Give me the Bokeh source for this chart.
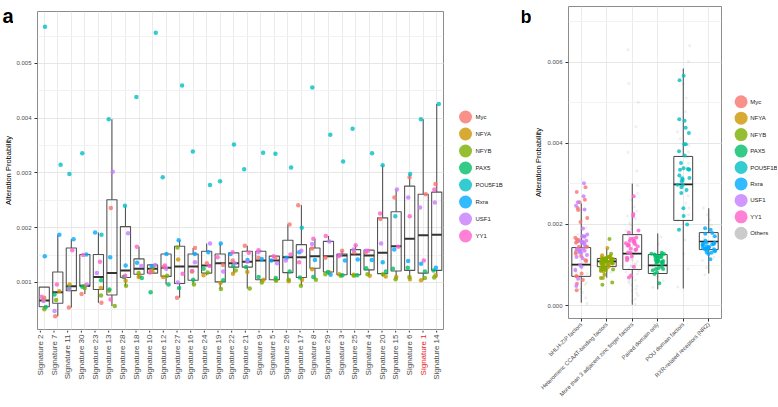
from math import pi
from bokeh.plotting import figure
from bokeh.models import (ColumnDataSource, FactorRange, Range1d, SingleIntervalTicker,
                          PrintfTickFormatter, Grid, CategoricalTicker)
from bokeh.layouts import row, column
from bokeh.transform import jitter
from bokeh.core.properties import value
from bokeh.embed import file_html
from bokeh.resources import INLINE

FONT = "Liberation Sans"
S = 1e-3  # values below are in units of 1e-3
H = 405

# ---------------- data ----------------
signatures = ["Signature 2", "Signature 7", "Signature 11", "Signature 30", "Signature 23",
              "Signature 13", "Signature 28", "Signature 18", "Signature 10", "Signature 12",
              "Signature 27", "Signature 16", "Signature 24", "Signature 19", "Signature 22",
              "Signature 21", "Signature 9", "Signature 5", "Signature 26", "Signature 17",
              "Signature 8", "Signature 29", "Signature 3", "Signature 25", "Signature 4",
              "Signature 20", "Signature 15", "Signature 6", "Signature 1", "Signature 14"]
highlighted = ["Signature 1"]
y_title = "Alteration Probability"

tfs = ["Myc", "NFYA", "NFYB", "PAX5", "POU5F1B", "Rxra", "USF1", "YY1"]
tf_colors = ["#F8766D", "#CD9600", "#7CAE00", "#00BE67", "#00BFC4", "#00A9FF", "#C77CFF", "#FF61CC"]

myc  = [.72, .38, .54, .79, .63, 2.36, 1.10, 1.12, 1.22, 1.28, .72, 1.63, 1.35, 1.32, 1.40,
        1.67, 1.45, 1.45, 2.06, 2.41, 1.62, 1.45, 1.58, 1.55, 1.55, 2.16, 2.55, 2.92, 2.61, 2.80]
nfya = [.68, .84, .96, .94, .90, .85, 1.03, 1.10, 1.20, 1.10, 1.42, 1.20, 1.13, .99, 1.16,
        1.19, 1.05, 1.05, 1.02, 1.05, 1.24, 1.18, 1.15, 1.14, 1.12, 1.11, 1.10, 1.06, 1.04, 1.13]
nfyb = [.51, .68, .88, .90, .76, .57, .94, 1.17, 1.28, 1.12, 1.64, .96, 1.18, .88, 1.22,
        .89, 1.00, 1.03, 1.05, .94, 1.05, 1.15, 1.12, 1.12, 1.15, 1.15, 1.06, 1.10, 1.08, 1.09]
pax5 = [.55, .78, .90, .92, 1.04, .87, 1.10, 1.08, .82, .96, .90, 1.05, 1.25, 1.04, 1.30,
        1.28, 1.10, 1.08, 1.20, 1.09, 1.10, 1.19, 1.13, 1.13, 1.26, 1.20, 1.25, 1.27, 1.20, 1.22]
pou5f1b = [5.67, 3.15, 2.98, 3.36, 1.87, 3.98, 2.40, 4.39, 5.56, 2.92, 4.60, 3.39, 2.78, 2.85, 3.52,
           3.07, 3.37, 3.35, 3.10, 2.00, 4.56, 3.70, 3.21, 3.81, 3.36, 3.14, 2.21, 2.98, 3.98, 4.26]
rxra = [1.48, 1.87, 1.79, 1.51, 1.91, 1.46, 1.31, 1.36, 1.30, 1.52, 1.77, 1.52, 1.55, 1.71, 1.52,
        1.41, 1.43, 1.40, 1.45, 1.55, 1.41, 1.14, 1.40, 1.42, 1.41, 1.37, 1.60, 1.39, 1.34, 1.27]
usf1 = [.66, .48, .88, .96, 1.17, 3.02, 1.90, 1.30, 1.32, 1.25, 1.00, 1.37, 1.71, 1.20, 1.35,
        1.38, 1.55, 1.35, 1.40, 1.58, 1.70, 1.75, 1.50, 1.60, 1.58, 1.71, 2.70, 2.55, 2.37, 2.46]
yy1  = [.74, .96, 1.59, 1.50, 1.38, .69, 1.12, 1.65, 1.18, 1.31, 1.16, 1.21, 1.30, 1.46, 1.55,
        1.54, 1.59, 1.48, 1.51, 1.37, 1.80, 1.85, 1.48, 1.68, 1.58, 2.26, 1.65, 2.21, 1.40, 2.70]
tf_values = [myc, nfya, nfyb, pax5, pou5f1b, rxra, usf1, yy1]

# box statistics per signature (panel a)
a_lo  = [.51, .38, .54, .79, .63, .57, .93, 1.08, 1.17, .96, .72, .96, 1.13, .88, 1.16,
         .89, 1.00, 1.03, 1.02, .94, 1.05, 1.14, 1.12, 1.12, 1.12, 1.11, 1.06, 1.06, 1.04, 1.09]
a_q1  = [.555, .62, .85, .93, .87, .77, 1.09, 1.15, 1.17, 1.11, .98, 1.04, 1.17, 1.01, 1.28,
         1.28, 1.05, 1.05, 1.18, 1.09, 1.26, 1.19, 1.14, 1.14, 1.23, 1.16, 1.21, 1.22, 1.17, 1.22]
a_med = [.67, .82, .93, .94, 1.10, 1.17, 1.22, 1.25, 1.25, 1.27, 1.29, 1.29, 1.31, 1.35, 1.35,
         1.38, 1.40, 1.40, 1.46, 1.46, 1.48, 1.48, 1.49, 1.51, 1.49, 1.54, 1.66, 1.80, 1.86, 1.87]
a_q3  = [.915, 1.19, 1.63, 1.51, 1.51, 2.51, 2.02, 1.43, 1.32, 1.52, 1.66, 1.52, 1.57, 1.52, 1.54,
         1.57, 1.57, 1.48, 1.77, 1.69, 1.63, 1.75, 1.52, 1.60, 1.59, 2.18, 2.29, 2.76, 2.61, 2.65]
a_hi  = [.915, 1.87, 1.79, 1.51, 1.91, 3.98, 2.40, 1.65, 1.32, 1.52, 1.77, 1.63, 1.71, 1.71, 1.55,
         1.67, 1.59, 1.48, 2.06, 2.41, 1.80, 1.85, 1.58, 1.68, 1.59, 3.14, 2.70, 2.98, 3.98, 4.26]

# panel b
families = ["bHLH-ZIP factors", "Heteromeric CCAAT-binding factors",
            "More than 3 adjacent zinc finger factors", "Paired domain only",
            "POU domain factors", "RXR-related receptors (NR2)"]
tf_family = ["bHLH-ZIP factors", "Heteromeric CCAAT-binding factors",
             "Heteromeric CCAAT-binding factors", "Paired domain only", "POU domain factors",
             "RXR-related receptors (NR2)", "bHLH-ZIP factors",
             "More than 3 adjacent zinc finger factors"]
b_lo  = [0.07, 0.69, 0.02, 0.40, 0.42, 0.79]
b_q1  = [0.72, 0.96, 0.89, 0.79, 2.10, 1.38]
b_med = [1.01, 1.09, 1.28, 0.99, 2.99, 1.58]
b_q3  = [1.43, 1.16, 1.75, 1.26, 3.68, 1.80]
b_hi  = [2.52, 1.41, 3.01, 1.78, 5.85, 2.40]

others_bhlh = [0.05, 0.19, 0.33, 0.41, 0.52, 0.56, 0.63, 0.66, 0.71, 0.74, 0.79, 0.81, 0.85, 0.88,
               0.92, 0.93, 0.97, 1.01, 1.04, 1.06, 1.11, 1.14, 1.18, 1.22, 1.27, 1.31, 1.37, 1.45,
               1.53, 1.64, 1.76, 1.92, 2.12, 2.36]
others_ccaat = [0.82, 0.97, 1.04, 1.13, 1.22]
others_zinc = [0.03, 0.11, 0.16, 0.25, 0.31, 0.37, 0.41, 0.48, 0.51, 0.57, 0.61, 0.63, 0.69, 0.72,
               0.76, 0.78, 0.83, 0.85, 0.9, 0.92, 0.96, 0.99, 1.02, 1.04, 1.09, 1.12, 1.14, 1.19,
               1.21, 1.26, 1.29, 1.31, 1.37, 1.39, 1.45, 1.47, 1.53, 1.56, 1.63, 1.66, 1.73, 1.77,
               1.85, 1.89, 1.98, 2.04, 2.14, 2.21, 2.33, 2.44, 2.61, 2.77, 2.96, 3.32, 3.78, 4.42,
               5.02, 5.48, 6.31]
others_paired = [0.45, 0.61, 0.71, 0.81, 0.87, 0.96, 1.03, 1.09, 1.21, 1.32, 1.51, 1.69]
others_pou = [0.46, 0.91, 1.28, 1.62, 1.88, 2.11, 2.24, 2.41, 2.53, 2.71, 2.81, 2.96, 3.04, 3.16,
              3.27, 3.41, 3.51, 3.66, 3.79, 3.96, 4.12, 4.29, 4.56, 4.78, 5.12, 5.47, 6.02, 6.41]
others_rxr = [0.76, 0.94, 1.11, 1.19, 1.31, 1.36, 1.45, 1.49, 1.56, 1.59, 1.66, 1.69, 1.77,
              1.82, 1.91, 1.99, 2.11, 2.24, 2.41]
others_by_family = [others_bhlh, others_ccaat, others_zinc, others_paired, others_pou, others_rxr]
others_color = "#BEBEBE"

# ---------------- helpers ----------------
def style_axes(p):
    for ax in p.axis:
        ax.axis_line_color = None
        ax.major_tick_line_color = "#333333"
        ax.major_tick_out = 3
        ax.major_tick_in = 0
        ax.minor_tick_line_color = None
        ax.major_label_text_color = "#4D4D4D"
        ax.major_label_text_font = FONT
        ax.major_label_standoff = 2
        ax.axis_label_text_font = FONT
        ax.axis_label_text_font_style = "normal"
        ax.axis_label_text_color = "black"
        ax.axis_label_text_font_size = "7.5px"
        ax.axis_label_standoff = 1
    p.xgrid.grid_line_color = "#EBEBEB"
    p.ygrid.grid_line_color = "#E6E6E6"
    p.ygrid.minor_grid_line_color = "#F2F2F2"
    p.outline_line_color = "#8C8C8C"
    p.outline_line_width = 1
    p.background_fill_color = "white"
    p.border_fill_color = "white"


def blank_fig(width, height, x_range, y_range, **kw):
    f = figure(width=width, height=height, x_range=x_range, y_range=y_range,
               output_backend="svg", toolbar_location=None, x_axis_location=None,
               y_axis_location=None, frame_align=False, **kw)
    f.grid.visible = False
    f.outline_line_color = None
    f.background_fill_color = None
    f.border_fill_color = None
    return f


def letter_fig(width, letter, lx, lbase, size, title=None, tx=0, ty=0):
    g = blank_fig(width, H, Range1d(0, width), Range1d(H, 0), min_border=0)
    g.text(x=[lx], y=[lbase], text=[letter], text_font=value(FONT), text_font_size=size,
           text_font_style="bold", text_baseline="alphabetic", text_align="left", text_color="black")
    if title:
        g.text(x=[tx], y=[ty], text=[title], text_font=value(FONT), text_font_size="7.5px",
               angle=pi / 2, text_align="center", text_baseline="middle", text_color="black")
    return g


# ---------------- panel a ----------------
PA_W, PA_L, PA_R, PA_TOP = 442, 20, 12, 11
PA_H = PA_TOP + 318 + 1
pa = figure(width=PA_W, height=PA_H, x_range=FactorRange(*signatures),
            y_range=Range1d(0.00014, 0.00595), output_backend="svg", toolbar_location=None,
            x_axis_location=None, min_border_left=PA_L, min_border_right=PA_R,
            min_border_top=PA_TOP, min_border_bottom=1, frame_align=False)
if not pa.xgrid:
    pa.add_layout(Grid(dimension=0, ticker=CategoricalTicker()))
tick_a = SingleIntervalTicker(interval=0.001, num_minor_ticks=2)
pa.yaxis.ticker = tick_a
pa.ygrid.ticker = tick_a
pa.yaxis.formatter = PrintfTickFormatter(format="%.3f")
pa.yaxis.major_label_text_font_size = "6px"
style_axes(pa)

box_a = ColumnDataSource(dict(sig=signatures,
                              lo=[v * S for v in a_lo], q1=[v * S for v in a_q1],
                              med=[v * S for v in a_med], q3=[v * S for v in a_q3],
                              hi=[v * S for v in a_hi]))
pa.segment(x0="sig", y0="q3", x1="sig", y1="hi", source=box_a, line_color="#555555", line_width=1.1)
pa.segment(x0="sig", y0="lo", x1="sig", y1="q1", source=box_a, line_color="#555555", line_width=1.1)
pa.vbar(x="sig", top="q3", bottom="q1", width=0.75, source=box_a, fill_color=None,
        line_color="#555555", line_width=1.1)
pa.vbar(x="sig", top="med", bottom="med", width=0.75, source=box_a, fill_color=None,
        line_color="#333333", line_width=2)

pts = dict(sig=[], val=[], color=[])
for tf, col, vals in zip(tfs, tf_colors, tf_values):
    for s, v in zip(signatures, vals):
        pts["sig"].append(s)
        pts["val"].append(v * S)
        pts["color"].append(col)
pa.scatter(x=jitter("sig", width=0.5, range=pa.x_range), y="val", source=ColumnDataSource(pts),
           size=4.5, fill_color="color", line_color=None, fill_alpha=0.8)

# category ticks and labels of panel a (one highlighted in red)
ST_H = H - PA_H
strip = blank_fig(PA_W, ST_H, pa.x_range, Range1d(ST_H, 0),
                  min_border_left=PA_L, min_border_right=PA_R, min_border_top=0, min_border_bottom=0)
lab_src = ColumnDataSource(dict(sig=signatures,
                                color=["#E41A1C" if s in highlighted else "#4D4D4D" for s in signatures]))
strip.segment(x0="sig", y0=0, x1="sig", y1=2, source=lab_src, line_color="#333333", line_width=1)
strip.text(x="sig", y=4, text="sig", source=lab_src, angle=pi / 2, text_align="right",
           text_baseline="middle", text_color="color", text_font=value(FONT), text_font_size="8px")

gut_a = letter_fig(13, "a", 2, 15, "20px", y_title, 8, PA_TOP + 159)


# ---------------- legend figure helper ----------------
def legend_fig(width, names, colors, top, item_h):
    fh = int(round(item_h * len(names)))
    lf = blank_fig(width, H, Range1d(0, 1), FactorRange(*reversed(names)),
                   min_border_left=0, min_border_right=0, min_border_top=top,
                   min_border_bottom=H - top - fh)
    src = ColumnDataSource(dict(name=names, color=colors))
    return lf, src


lega, srca = legend_fig(66, tfs, tf_colors, 108, 17)
lega.scatter(x=0.152, y="name", source=srca, size=13, fill_color="color", line_color=None, fill_alpha=0.8)
lega.text(x=0.303, y="name", text="name", source=srca, text_font_size="6px", text_baseline="middle",
          text_font=value(FONT), text_color="#1A1A1A")

# ---------------- panel b ----------------
gut_b = letter_fig(10, "b", -1, 16, "18px")

pb = figure(width=194, height=H, x_range=FactorRange(*families),
            y_range=Range1d(-0.00032, 0.00738), output_backend="svg", toolbar_location=None,
            min_border_left=30, min_border_right=4, min_border_top=6, min_border_bottom=H - 318,
            frame_align=False)
tick_b = SingleIntervalTicker(interval=0.002, num_minor_ticks=2)
pb.yaxis.ticker = tick_b
pb.ygrid.ticker = tick_b
pb.yaxis.formatter = PrintfTickFormatter(format="%.3f")
pb.yaxis.axis_label = y_title
pb.xaxis.major_label_orientation = pi / 4
style_axes(pb)
pb.xaxis.major_label_text_font_size = "5.8px"
pb.yaxis.major_label_text_font_size = "6px"

oth = dict(fam=[], val=[])
for fam, vals in zip(families, others_by_family):
    for v in vals:
        oth["fam"].append(fam)
        oth["val"].append(v * S)
pb.scatter(x=jitter("fam", width=0.5, range=pb.x_range), y="val", source=ColumnDataSource(oth),
           size=3, fill_color=others_color, line_color=None, fill_alpha=0.25)

box_b = ColumnDataSource(dict(fam=families,
                              lo=[v * S for v in b_lo], q1=[v * S for v in b_q1],
                              med=[v * S for v in b_med], q3=[v * S for v in b_q3],
                              hi=[v * S for v in b_hi]))
pb.segment(x0="fam", y0="q3", x1="fam", y1="hi", source=box_b, line_color="#444444", line_width=1)
pb.segment(x0="fam", y0="lo", x1="fam", y1="q1", source=box_b, line_color="#444444", line_width=1)
pb.vbar(x="fam", top="q3", bottom="q1", width=0.74, source=box_b, fill_color=None,
        line_color="#444444", line_width=1)
pb.vbar(x="fam", top="med", bottom="med", width=0.74, source=box_b, fill_color=None,
        line_color="#222222", line_width=1.6)

cp = dict(fam=[], val=[], color=[])
for fam, col, vals in zip(tf_family, tf_colors, tf_values):
    for v in vals:
        cp["fam"].append(fam)
        cp["val"].append(v * S)
        cp["color"].append(col)
pb.scatter(x=jitter("fam", width=0.5, range=pb.x_range), y="val", source=ColumnDataSource(cp),
           size=4, fill_color="color", line_color=None, fill_alpha=0.8)

legb, srcb = legend_fig(52, tfs + ["Others"], tf_colors + [others_color], 93, 16.5)
legb.scatter(x=0.30, y="name", source=srcb, size=13, fill_color="color", line_color=None, fill_alpha=0.8)
legb.text(x=0.475, y="name", text="name", source=srcb, text_font_size="6px", text_baseline="middle",
          text_font=value(FONT), text_color="#1A1A1A")

layout = row(gut_a, column(pa, strip), lega, gut_b, pb, legb)
open("out.html", "w").write(file_html(layout, INLINE))
